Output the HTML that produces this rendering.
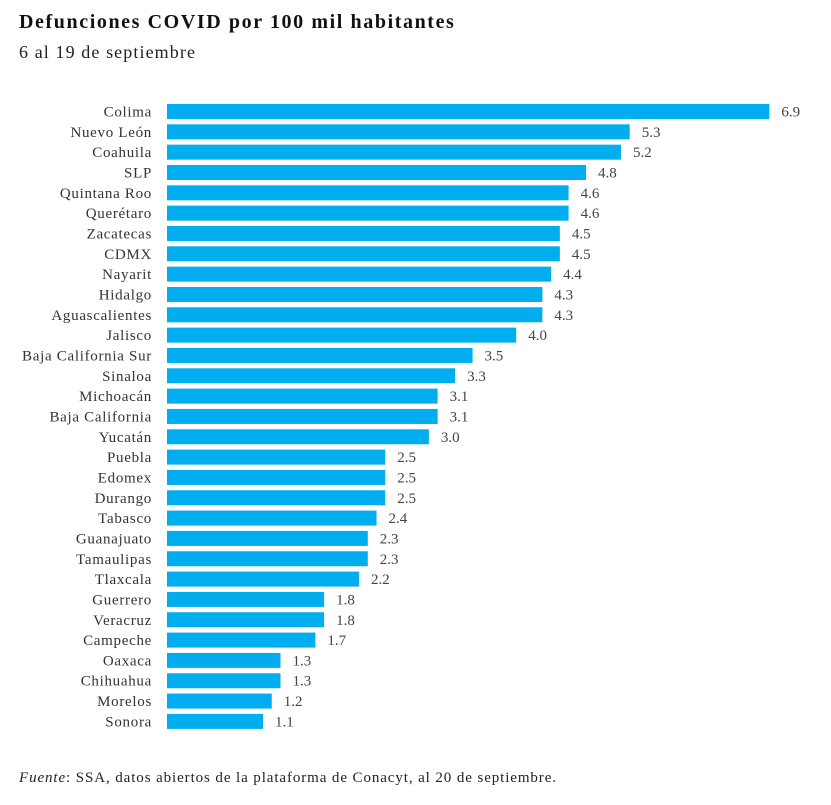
<!DOCTYPE html>
<html><head><meta charset="utf-8"><style>
body{margin:0;background:#fff;width:831px;height:800px;overflow:hidden;font-family:"Liberation Serif",serif;}
svg text{font-family:"Liberation Serif",serif;}
</style></head><body>
<svg id="chart" width="831" height="800">
<text x="19" y="28" font-size="20" font-weight="bold" fill="#111" letter-spacing="1.6">Defunciones COVID por 100 mil habitantes</text>
<text x="19" y="58" font-size="18" fill="#222" letter-spacing="1.1">6 al 19 de septiembre</text>
<g id="bars"></g>
<text x="19" y="782" font-size="15" fill="#222" letter-spacing="0.9"><tspan font-style="italic">Fuente</tspan>: SSA, datos abiertos de la plataforma de Conacyt, al 20 de septiembre.</text>
</svg>
<script>
const categories=["Colima","Nuevo León","Coahuila","SLP","Quintana Roo","Querétaro","Zacatecas","CDMX","Nayarit","Hidalgo","Aguascalientes","Jalisco","Baja California Sur","Sinaloa","Michoacán","Baja California","Yucatán","Puebla","Edomex","Durango","Tabasco","Guanajuato","Tamaulipas","Tlaxcala","Guerrero","Veracruz","Campeche","Oaxaca","Chihuahua","Morelos","Sonora"];
const values=[6.9,5.3,5.2,4.8,4.6,4.6,4.5,4.5,4.4,4.3,4.3,4.0,3.5,3.3,3.1,3.1,3.0,2.5,2.5,2.5,2.4,2.3,2.3,2.2,1.8,1.8,1.7,1.3,1.3,1.2,1.1];
const x0=167, pxPerUnit=87.3, y0=111.5, step=20.33, bh=15;
const xScale=v=>x0+v*pxPerUnit;
const yScale=i=>y0+i*step;
const g=document.getElementById('bars');
const NS='http://www.w3.org/2000/svg';
categories.forEach((c,i)=>{
  const y=yScale(i);
  const r=document.createElementNS(NS,'rect');
  r.setAttribute('x',x0);r.setAttribute('y',y-bh/2);
  r.setAttribute('width',xScale(values[i])-x0);r.setAttribute('height',bh);
  r.setAttribute('fill','#00AEEF');
  
  
  g.appendChild(r);
  const t=document.createElementNS(NS,'text');
  t.setAttribute('x',152);t.setAttribute('y',y+5);
  t.setAttribute('text-anchor','end');t.setAttribute('font-size','15');t.setAttribute('fill','#333');
  t.setAttribute('letter-spacing','0.7');
  t.textContent=c;
  
  
  g.appendChild(t);
  const v=document.createElementNS(NS,'text');
  v.setAttribute('x',xScale(values[i])+12);v.setAttribute('y',y+5);
  v.setAttribute('font-size','15');v.setAttribute('fill','#444');
  v.textContent=values[i].toFixed(1);
  
  
  g.appendChild(v);
});
</script>
</body></html>
